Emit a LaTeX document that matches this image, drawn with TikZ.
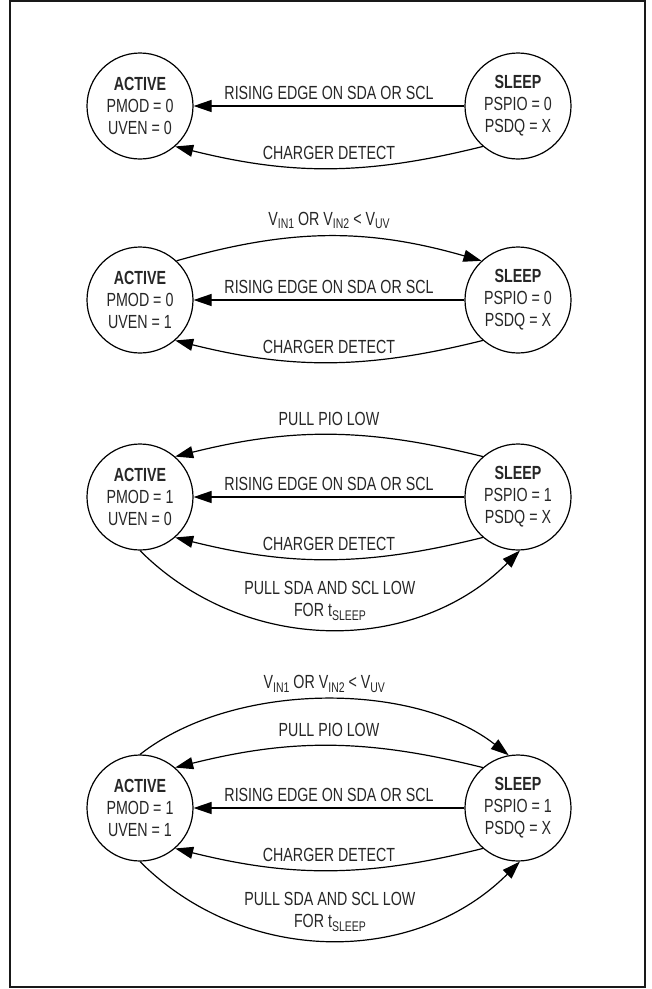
\documentclass[tikz,border=0pt]{standalone}
\usepackage{fontspec}
\setmainfont[FakeStretch=0.75]{Liberation Sans}
\usetikzlibrary{arrows.meta}
\newcommand\lowsub[1]{\raisebox{-3.5pt}{\fontsize{14}{14}\selectfont #1}}
\begin{document}
\begin{tikzpicture}[x=1pt,y=1pt,
  state/.style={circle,draw,line width=1.2pt,minimum size=106pt,inner sep=0pt,align=center,
    font=\fontsize{19}{22}\selectfont,text=black!85},
  conn/.style={line width=1.2pt,-{Triangle[length=18pt,width=12pt]}},
  lbl/.style={font=\fontsize{19}{22.5}\selectfont,inner sep=0pt,align=center,text=black!85}]
\useasboundingbox (0,0) rectangle (652,-989);
\draw[line width=2pt,black!90] (10,-1) rectangle (645,-987);

% ---------- diagram 1 ----------
\begin{scope}[yshift=-106pt]
\node[state] (A1) at (140,0) {\textbf{ACTIVE}\\PMOD = 0\\UVEN = 0};
\node[state] (S1) at (518,0) {\textbf{SLEEP}\\PSPIO = 0\\PSDQ = X};
\draw[conn] (S1) -- node[lbl,above=6pt]{RISING EDGE ON SDA OR SCL} (A1);
\draw[conn] (S1.229) to[bend left=14] node[lbl,above=8pt]{CHARGER DETECT} (A1.-49);
\end{scope}

% ---------- diagram 2 ----------
\begin{scope}[yshift=-300pt]
\node[state] (A2) at (140,0) {\textbf{ACTIVE}\\PMOD = 0\\UVEN = 1};
\node[state] (S2) at (518,0) {\textbf{SLEEP}\\PSPIO = 0\\PSDQ = X};
\draw[conn] (A2.47) to[bend left=16] node[lbl,above=6.7pt]{V\lowsub{IN1} OR V\lowsub{IN2} < V\lowsub{UV}} (S2.133);
\draw[conn] (S2) -- node[lbl,above=6pt]{RISING EDGE ON SDA OR SCL} (A2);
\draw[conn] (S2.229) to[bend left=14] node[lbl,above=8pt]{CHARGER DETECT} (A2.-49);
\end{scope}

% ---------- diagram 3 ----------
\begin{scope}[yshift=-497pt]
\node[state] (A3) at (140,0) {\textbf{ACTIVE}\\PMOD = 1\\UVEN = 0};
\node[state] (S3) at (518,0) {\textbf{SLEEP}\\PSPIO = 1\\PSDQ = X};
\draw[conn] (S3.131) to[bend right=14] node[lbl,above=8.5pt]{PULL PIO LOW} (A3.49);
\draw[conn] (S3) -- node[lbl,above=6pt]{RISING EDGE ON SDA OR SCL} (A3);
\draw[conn] (S3.229) to[bend left=14] node[lbl,above=8pt]{CHARGER DETECT} (A3.-49);
\draw[conn] (A3.-90) to[out=-45,in=-135] node[lbl,above=8pt]{PULL SDA AND SCL LOW\\FOR t\lowsub{SLEEP}} (S3.-88);
\end{scope}

% ---------- diagram 4 ----------
\begin{scope}[yshift=-808pt]
\node[state] (A4) at (140,0) {\textbf{ACTIVE}\\PMOD = 1\\UVEN = 1};
\node[state] (S4) at (518,0) {\textbf{SLEEP}\\PSPIO = 1\\PSDQ = X};
\draw[conn] (A4.90) to[out=38,in=142,looseness=0.83] node[lbl,above=6.7pt]{V\lowsub{IN1} OR V\lowsub{IN2} < V\lowsub{UV}} (S4.100);
\draw[conn] (S4.131) to[bend right=14] node[lbl,above=8.5pt]{PULL PIO LOW} (A4.49);
\draw[conn] (S4) -- node[lbl,above=6pt]{RISING EDGE ON SDA OR SCL} (A4);
\draw[conn] (S4.229) to[bend left=14] node[lbl,above=8pt]{CHARGER DETECT} (A4.-49);
\draw[conn] (A4.-90) to[out=-45,in=-135] node[lbl,above=8pt]{PULL SDA AND SCL LOW\\FOR t\lowsub{SLEEP}} (S4.-88);
\end{scope}
\end{tikzpicture}
\end{document}
